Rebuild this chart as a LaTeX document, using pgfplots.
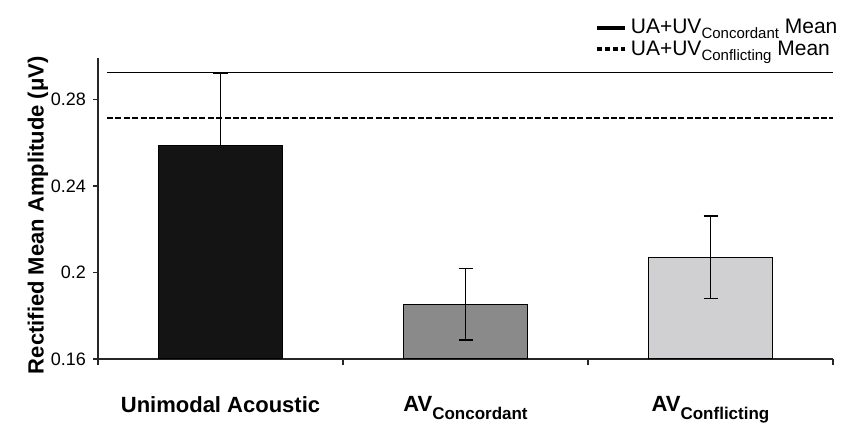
\documentclass[border=0pt]{standalone}
\usepackage{pgfplots}
\pgfplotsset{compat=1.18}
\usepackage{fontspec}
\setmainfont{Liberation Sans}
\definecolor{barA}{HTML}{141414}
\definecolor{barB}{HTML}{8A8A8A}
\definecolor{barC}{HTML}{D0D0D2}
\newcommand{\xsub}[1]{\raisebox{-4pt}{\fontsize{8.5}{9}\selectfont\bfseries #1}}
\newcommand{\lsub}[1]{\raisebox{-2.5pt}{\fontsize{7.5}{8}\selectfont #1}}
\begin{document}
\begin{tikzpicture}
\begin{axis}[
  scale only axis,
  width=367.5pt, height=150.5pt,
  xmin=-0.5, xmax=2.5,
  ymin=0.16, ymax=0.2992,
  axis lines*=left,
  axis line style={-, line width=0.8pt, black!85},
  tick align=outside,
  ytick={0.16,0.2,0.24,0.28},
  major tick length=2.5pt,
  tick style={line width=0.8pt, black!85},
  /pgf/number format/.cd, fixed, precision=2, assume math mode=true,
  /pgfplots/.cd,
  yticklabel style={font=\fontsize{9}{10}\selectfont, xshift=0pt},
  xtick={0,1,2},
  xticklabels={{Unimodal Acoustic},{AV\xsub{Concordant}},{AV\xsub{Conflicting}}},
  xticklabel style={font=\fontsize{11}{12}\selectfont\bfseries, yshift=-12.5pt},
  x tick style={draw=none},
  extra x ticks={-0.5,0.5,1.5,2.5},
  extra x tick labels={},
  extra x tick style={x tick style={draw=black!85, line width=0.8pt}, major tick length=3pt},
  every axis y label/.style={at={(rel axis cs:0,0.478)}, xshift=-30pt, rotate=90, anchor=center},
  ylabel={\fontsize{11}{12}\selectfont\bfseries Rectified Mean Amplitude (μV)},
  legend style={draw=none, fill=none, at={(rel axis cs:1.012,0.985)}, anchor=south east,
    font=\fontsize{10.5}{12}\selectfont, row sep=-2pt, inner sep=0pt},
  legend cell align=left,
  clip=false,
]
\addplot[ybar, bar width=0.51, fill=barA, draw=black, line width=0.5pt, forget plot,
  error bars/.cd, y dir=plus, y explicit,
  error bar style={line width=0.6pt, black},
  error mark options={rotate=90, mark size=3.5pt, line width=0.6pt, black}]
  coordinates {(0,0.2585) +- (0,0.0338)};
\addplot[ybar, bar width=0.51, fill=barB, draw=black, line width=0.5pt, forget plot,
  error bars/.cd, y dir=both, y explicit,
  error bar style={line width=0.6pt, black},
  error mark options={rotate=90, mark size=3.5pt, line width=0.6pt, black}]
  coordinates {(1,0.1853) +- (0,0.0165)};
\addplot[ybar, bar width=0.51, fill=barC, draw=black, line width=0.5pt, forget plot,
  error bars/.cd, y dir=both, y explicit,
  error bar style={line width=0.6pt, black},
  error mark options={rotate=90, mark size=3.5pt, line width=0.6pt, black}]
  coordinates {(2,0.2071) +- (0,0.019)};
\addplot[black, line width=0.8pt, mark=none,
  legend image code/.code={\draw[black, line width=2pt] (0pt,0pt) -- (14pt,0pt);}]
  coordinates {(-0.463,0.2925) (2.5,0.2925)};
\addlegendentry{UA+UV\lsub{Concordant} Mean}
\addplot[black, line width=1pt, mark=none, dash pattern=on 3pt off 1.2pt,
  legend image code/.code={\draw[black, line width=2pt, dash pattern=on 2.5pt off 1.5pt] (0pt,0pt) -- (14pt,0pt);}]
  coordinates {(-0.463,0.2714) (2.5,0.2714)};
\addlegendentry{UA+UV\lsub{Conflicting} Mean}
\end{axis}
\path (-49pt,-32.5pt) rectangle (376.5pt,179.5pt);
\end{tikzpicture}
\end{document}
